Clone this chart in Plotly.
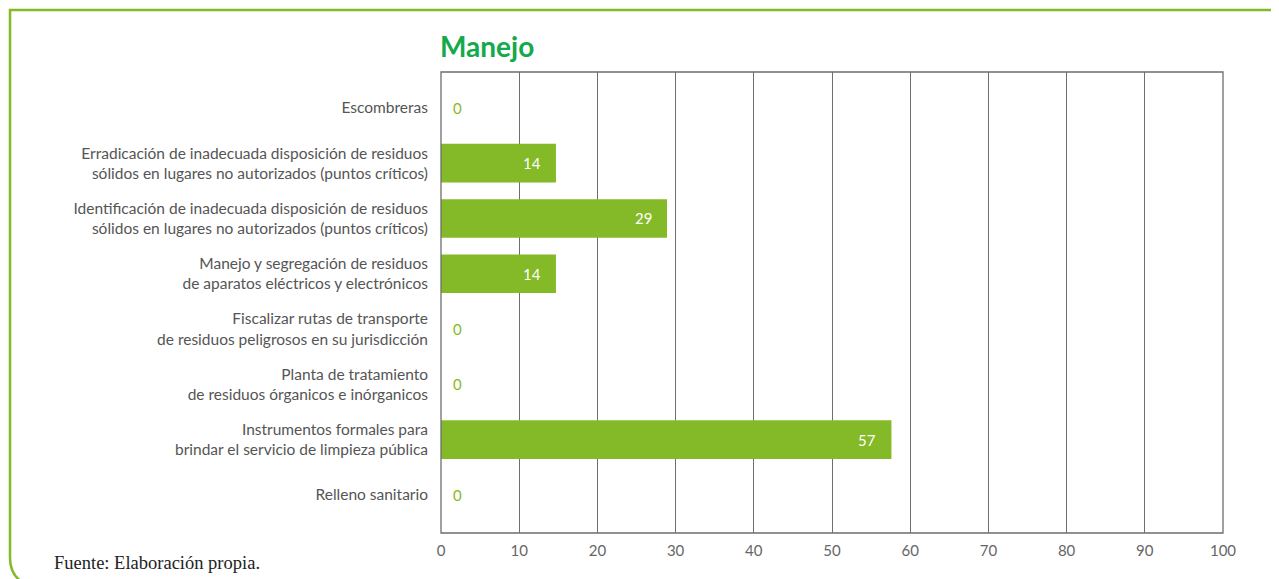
import plotly.graph_objects as go

categories = [
    "Escombreras",
    "Erradicación de inadecuada disposición de residuos<br>sólidos en lugares no autorizados (puntos críticos)",
    "Identificación de inadecuada disposición de residuos<br>sólidos en lugares no autorizados (puntos críticos)",
    "Manejo y segregación de residuos<br>de aparatos eléctricos y electrónicos",
    "Fiscalizar rutas de transporte<br>de residuos peligrosos en su jurisdicción",
    "Planta de tratamiento<br>de residuos órganicos e inórganicos",
    "Instrumentos formales para<br>brindar el servicio de limpieza pública",
    "Relleno sanitario",
]
# bar lengths as drawn in the picture, and the labels printed on them
bar_values = [0, 14.7, 28.9, 14.7, 0, 0, 57.6, 0]
value_labels = ["0", "14", "29", "14", "0", "0", "57", "0"]
x_ticks = [0, 10, 20, 30, 40, 50, 60, 70, 80, 90, 100]

OFF = 8  # page body margin
W, H = 1279 - OFF, 579 - OFF
L, R, T, B = 441 - OFF, 56, 72 - OFF, 46
pw, ph = W - L - R, H - T - B

def px(x):
    return (x - OFF - L) / pw

def py(y):
    return (H - B - (y - OFF)) / ph

GREEN = "#84BA27"
GRID = "#6e6e6e"
TXT = "#555555"
FONT = "Lato, Open Sans, sans-serif"

fig = go.Figure(go.Bar(
    x=bar_values, y=categories, orientation="h",
    marker=dict(color=GREEN, line=dict(width=0)),
    width=0.7,
    hoverinfo="skip",
))

annotations = []
for c, v, t in zip(categories, bar_values, value_labels):
    if v == 0:
        annotations.append(dict(x=v, y=c, xref="x", yref="y", text=t,
                                showarrow=False, xanchor="left", xshift=10,
                                font=dict(family=FONT, size=15, color=GREEN)))
    else:
        annotations.append(dict(x=v, y=c, xref="x", yref="y", text=t,
                                showarrow=False, xanchor="right", xshift=-13,
                                font=dict(family=FONT, size=15, color="white")))

annotations.append(dict(x=px(441), y=py(46), xref="paper", yref="paper",
                        text="<b>Manejo</b>", showarrow=False, xanchor="left",
                        yanchor="middle", xshift=-3,
                        font=dict(family=FONT, size=28, color="#14A94B")))
annotations.append(dict(x=px(52), y=py(563), xref="paper", yref="paper",
                        text="Fuente: Elaboración propia.", showarrow=False,
                        xanchor="left", yanchor="middle",
                        font=dict(family="Liberation Serif, serif", size=18.5, color="#222222")))

shapes = [
    dict(type="path", xref="paper", yref="paper",
         path=(f"M {px(1290)},{py(10)} L {px(10)},{py(10)} L {px(10)},{py(558)} "
               f"Q {px(10)},{py(574)} {px(22)},{py(582)}"),
         line=dict(color=GREEN, width=2.5)),
    dict(type="rect", xref="paper", yref="paper", x0=0, x1=1, y0=0, y1=1,
         line=dict(color=GRID, width=1.3), layer="above"),
]

fig.update_layout(
    width=W, height=H,
    margin=dict(l=L, r=R, t=T, b=B, pad=0),
    paper_bgcolor="white", plot_bgcolor="white",
    showlegend=False,
    xaxis=dict(range=[0, 100], tickvals=x_ticks, showgrid=True, gridcolor=GRID,
               gridwidth=1.2, zeroline=False, showline=False, ticks="",
               ticklabelstandoff=7,
               tickfont=dict(family=FONT, size=15, color="#666666"), fixedrange=True),
    yaxis=dict(autorange=False, range=[7.69, -0.65], showgrid=False, zeroline=False,
               showline=False, ticks="", ticklabelstandoff=12,
               tickfont=dict(family=FONT, size=15.5, color=TXT), fixedrange=True),
    annotations=annotations,
    shapes=shapes,
)

fig.write_html("out.html")
